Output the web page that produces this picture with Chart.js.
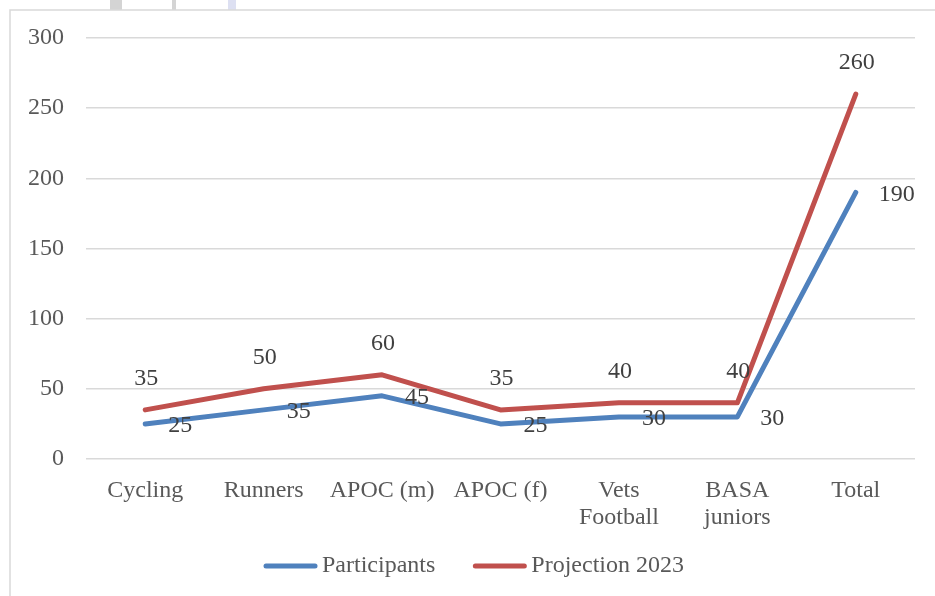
<!DOCTYPE html>
<html>
<head>
<meta charset="utf-8">
<script src="https://cdn.jsdelivr.net/npm/chart.js@4"></script>
<style>
  html, body { margin: 0; padding: 0; background: #fff; }
  #wrap { width: 935px; height: 596px; }
</style>
</head>
<body>
<div id="wrap"><canvas id="lineChart" width="935" height="596"></canvas></div>
<script>
const categories = ["Cycling", "Runners", "APOC (m)", "APOC (f)", ["Vets", "Football"], ["BASA", "juniors"], "Total"];
const participants = [25, 35, 45, 25, 30, 30, 190];
const projection2023 = [35, 50, 60, 35, 40, 40, 260];
const yTicks = [0, 50, 100, 150, 200, 250, 300];

const FONT = "'Liberation Serif', 'Times New Roman', serif";

// frame, scan marks on top edge
const framePlugin = {
    id: "frame",
    beforeDraw(chart) {
        const ctx = chart.ctx;
        ctx.save();
        ctx.fillStyle = "#fff";
        ctx.fillRect(0, 0, chart.width, chart.height);
        ctx.fillStyle = "#d4d4d4";
        ctx.fillRect(110, 0, 12, 10);
        ctx.fillRect(172, 0, 4, 10);
        ctx.fillStyle = "#dde0f2";
        ctx.fillRect(228, 0, 8, 10);
        ctx.strokeStyle = "#d9d9d9";
        ctx.lineWidth = 1.5;
        ctx.strokeRect(10, 10, chart.width + 10, chart.height + 10);
        ctx.restore();
    }
};

// data labels: blue to the right, red above
const valueLabels = {
    id: "valueLabels",
    afterDatasetsDraw(chart) {
        const ctx = chart.ctx;
        ctx.save();
        ctx.font = "24px " + FONT;
        ctx.fillStyle = "#404040";
        ctx.textBaseline = "middle";
        chart.data.datasets.forEach((ds, i) => {
            const meta = chart.getDatasetMeta(i);
            meta.data.forEach((pt, j) => {
                if (i === 0) {
                    ctx.textAlign = "left";
                    ctx.fillText(ds.data[j], pt.x + 23, pt.y + 2);
                } else {
                    ctx.textAlign = "center";
                    ctx.fillText(ds.data[j], pt.x + 1, pt.y - 31);
                }
            });
        });
        ctx.restore();
    }
};

// excel style legend at the bottom
const bottomLegend = {
    id: "bottomLegend",
    afterDraw(chart) {
        const ctx = chart.ctx;
        const y = 566, lineLen = 53, gapText = 5, gapItem = 38;
        ctx.save();
        ctx.font = "24px " + FONT;
        ctx.textBaseline = "middle";
        ctx.textAlign = "left";
        const items = chart.data.datasets.map(ds => ({ label: ds.label, color: ds.borderColor, w: ctx.measureText(ds.label).width }));
        let total = 0;
        items.forEach((it, i) => { total += lineLen + gapText + it.w + (i ? gapItem : 0); });
        let x = 474 - total / 2;
        items.forEach(it => {
            ctx.strokeStyle = it.color;
            ctx.lineWidth = 5;
            ctx.lineCap = "round";
            ctx.beginPath();
            ctx.moveTo(x + 2, y);
            ctx.lineTo(x + lineLen - 2, y);
            ctx.stroke();
            ctx.fillStyle = "#595959";
            ctx.fillText(it.label, x + lineLen + gapText, y);
            x += lineLen + gapText + it.w + gapItem;
        });
        ctx.restore();
    }
};

new Chart(document.getElementById("lineChart"), {
    type: "line",
    data: {
        labels: categories,
        datasets: [{
            label: "Participants",
            data: participants,
            borderColor: "#4F81BD",
            backgroundColor: "#4F81BD",
            borderWidth: 5,
            borderCapStyle: "round",
            borderJoinStyle: "round",
            pointRadius: 0,
            tension: 0,
        }, {
            label: "Projection 2023",
            data: projection2023,
            borderColor: "#C0504D",
            backgroundColor: "#C0504D",
            borderWidth: 5,
            borderCapStyle: "round",
            borderJoinStyle: "round",
            pointRadius: 0,
            tension: 0,
        }]
    },
    options: {
        responsive: false,
        animation: false,
        layout: { padding: { left: 0, right: 20, top: 38, bottom: 52 } },
        scales: {
            x: {
                offset: true,
                grid: { display: false },
                border: { display: false },
                afterFit: (s) => { s.height = 85; },
                ticks: {
                    padding: 11,
                    maxRotation: 0,
                    autoSkip: false,
                    font: { family: FONT, size: 24, lineHeight: 1.1 },
                    color: "#595959",
                },
            },
            y: {
                min: 0,
                max: 300,
                afterFit: (s) => { s.width = 86; },
                afterBuildTicks: (s) => { s.ticks = yTicks.map(v => ({ value: v })); },
                grid: { color: "#d9d9d9", lineWidth: 1.5, drawTicks: false },
                border: { display: false },
                ticks: {
                    padding: 22,
                    font: { family: FONT, size: 24 },
                    color: "#595959",
                },
            },
        },
        plugins: {
            legend: { display: false },
            tooltip: { enabled: false }
        }
    },
    plugins: [framePlugin, valueLabels, bottomLegend]
});
</script>
</body>
</html>
